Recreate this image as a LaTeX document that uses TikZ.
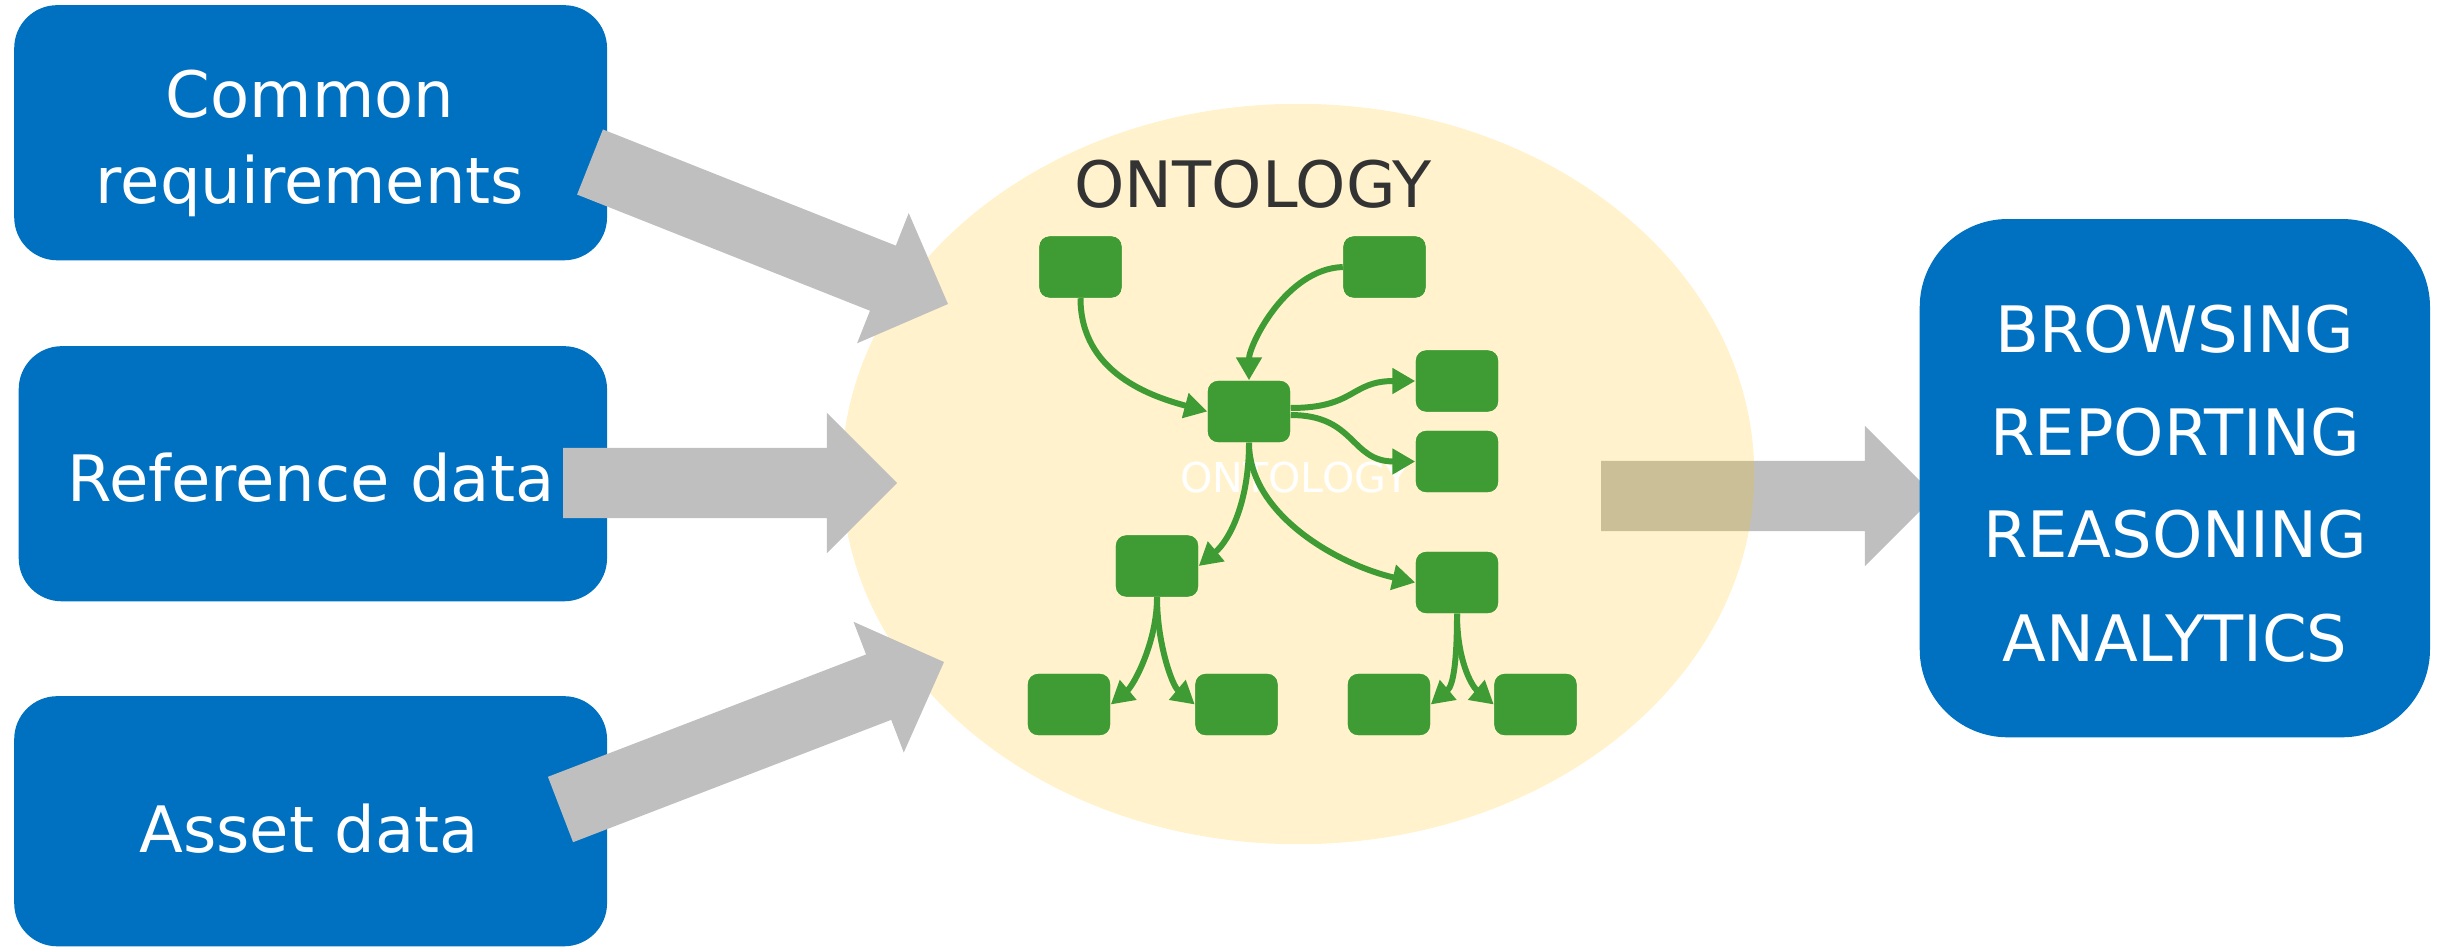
\documentclass[tikz,border=0pt]{standalone}
\usepackage{fontspec}
\setmainfont{DejaVu Sans}
\usetikzlibrary{calc,arrows.meta}
\definecolor{boxblue}{HTML}{0070C0}
\definecolor{arrowgray}{HTML}{BFBFBF}
\definecolor{ontogreen}{HTML}{3F9C35}
\definecolor{ellyellow}{HTML}{FFC000}
\definecolor{titlegray}{HTML}{333333}
\newcommand\blockarrow[2]{%
  \coordinate (#1-h) at ($(#2)!0.7cm!(#1)$);
  \fill[arrowgray] ($(#1)!0.35cm!90:(#2)$) -- ($(#1-h)!0.35cm!90:(#2)$) -- ($(#1-h)!0.7cm!90:(#2)$) -- (#2)
    -- ($(#1-h)!0.7cm!-90:(#2)$) -- ($(#1-h)!0.35cm!-90:(#2)$) -- ($(#1)!0.35cm!-90:(#2)$) -- cycle;}
\begin{document}
\begin{tikzpicture}[x=0.01cm,y=0.01cm,
  bluebox/.style={fill=boxblue, draw=none, rounded corners=0.43cm, anchor=south west, inner sep=0pt},
  boxlabel/.style={text=white, anchor=base, inner sep=0pt, font=\fontsize{18.2}{22}\selectfont},
  gnode/.style={fill=ontogreen, draw=none, rounded corners=0.1cm, minimum width=0.82cm, minimum height=0.61cm, inner sep=0pt},
  gconn/.style={draw=ontogreen, line width=1.7pt, -{Triangle[length=6.5pt,width=7pt]}}
]
\useasboundingbox (0,0) rectangle (2445,950);
% left boxes
\node[bluebox, minimum width=5.925cm, minimum height=2.55cm] (box1) at (13.5,689) {};
\node[bluebox, minimum width=5.88cm, minimum height=2.55cm] (box2) at (18,348) {};
\node[bluebox, minimum width=5.925cm, minimum height=2.5cm] (box3) at (13.5,3) {};
\node[boxlabel] (l1a) at (310,833) {Common};
\node[boxlabel] (l1b) at (310,747) {requirements};
\node[boxlabel] (l2) at (311,449) {Reference data};
\node[boxlabel] (l3) at (309,98) {Asset data};
% arrow coordinates
\coordinate (a1t) at (590,788);   \coordinate (a1p) at (948,646);
\coordinate (a2t) at (563,467);   \coordinate (a2p) at (897,467);
\coordinate (a3t) at (560.5,140.5); \coordinate (a3p) at (944,288);
\coordinate (a4t) at (1601,454);  \coordinate (a4p) at (1935,454);
% right arrow under ellipse
\blockarrow{a4t}{a4p}
% ellipse
\fill[ellyellow, fill opacity=0.2] (1298,476) ellipse [x radius=4.56cm, y radius=3.7cm];
% left arrows
\blockarrow{a1t}{a1p}
\blockarrow{a2t}{a2p}
\blockarrow{a3t}{a3p}
% right box
\node[bluebox, rounded corners=0.88cm, minimum width=5.1cm, minimum height=5.18cm] (rbox) at (1919,212) {};
\node[boxlabel] (r1) at (2175,598) {BROWSING};
\node[boxlabel] (r2) at (2175,495) {REPORTING};
\node[boxlabel] (r3) at (2175,393) {REASONING};
\node[boxlabel] (r4) at (2175,289) {ANALYTICS};
% ontology
\node[text=titlegray, anchor=base, inner sep=0pt, font=\fontsize{18.2}{22}\selectfont] (title) at (1253,743) {ONTOLOGY};
\node[text=white, anchor=base, inner sep=0pt, font=\fontsize{11.7}{14}\selectfont] (wtitle) at (1295,458) {ONTOLOGY};
\coordinate (A) at (1080.5,683);
\coordinate (B) at (1384.5,683);
\coordinate (C) at (1249,538.5);
\coordinate (D) at (1457,569);
\coordinate (E) at (1457,488.5);
\coordinate (F) at (1157,384);
\coordinate (G) at (1457,367.5);
\coordinate (H) at (1069,245.5);
\coordinate (I) at (1236.5,245.5);
\coordinate (J) at (1389,245.5);
\coordinate (K) at (1535.5,245.5);
\foreach \n in {A,B,C,D,E,F,G,H,I,J,K} {\node[gnode] (n\n) at (\n) {};}
\draw[gconn] (nA.south) to[out=-90,in=165,out distance=0.75cm,in distance=0.57cm] (nC.west);
\draw[gconn] (nB.west) to[out=182,in=90,out distance=0.57cm,in distance=0.35cm] (nC.north);
\draw[gconn] ([yshift=1pt]nC.east) to[out=0,in=180,out distance=0.65cm,in distance=0.65cm] (nD.west);
\draw[gconn] ([yshift=-1pt]nC.east) to[out=0,in=180,out distance=0.65cm,in distance=0.65cm] (nE.west);
\draw[gconn] (nC.south) to[out=-90,in=40,out distance=0.6cm,in distance=0.4cm] (nF.east);
\draw[gconn] (nC.south) to[out=-90,in=167,out distance=0.72cm,in distance=0.79cm] (nG.west);
\draw[gconn] (nF.south) to[out=-90,in=40,out distance=0.45cm,in distance=0.3cm] (nH.east);
\draw[gconn] (nF.south) to[out=-90,in=140,out distance=0.45cm,in distance=0.3cm] (nI.west);
\draw[gconn] (nG.south) to[out=-90,in=40,out distance=0.45cm,in distance=0.3cm] (nJ.east);
\draw[gconn] (nG.south) to[out=-90,in=140,out distance=0.45cm,in distance=0.3cm] (nK.west);
\foreach \n in {A,B,C,D,E,F,G,H,I,J,K} {\node[gnode] at (\n) {};}
\end{tikzpicture}
\end{document}
